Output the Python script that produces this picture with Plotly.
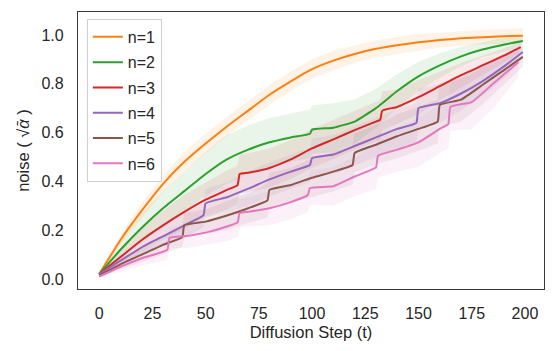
import numpy as np
import plotly.graph_objects as go

# ---- data ----
step_n1 = [0, 10, 20, 30, 40, 50, 60, 70, 80, 90, 100, 110, 120, 130, 140, 150, 160, 170, 180, 190, 199]
noise_n1 = [0.02, 0.16, 0.28, 0.39, 0.48, 0.555, 0.625, 0.69, 0.755, 0.81, 0.86, 0.895, 0.922, 0.943, 0.958,
            0.97, 0.979, 0.986, 0.991, 0.995, 0.997]
spread_n1 = [0.005, 0.02, 0.03, 0.035, 0.04, 0.04, 0.04, 0.04, 0.04, 0.04, 0.04, 0.04, 0.035, 0.035, 0.035,
             0.035, 0.03, 0.03, 0.03, 0.03, 0.03]

step_n2 = [0, 10, 20, 30, 40, 50, 60, 70, 80, 90, 99, 100, 110, 120, 130, 140, 150, 160, 170, 180, 190, 199]
noise_n2 = [0.02, 0.12, 0.21, 0.29, 0.36, 0.43, 0.49, 0.53, 0.56, 0.58, 0.595, 0.612, 0.62, 0.645, 0.70, 0.77,
            0.83, 0.875, 0.912, 0.94, 0.96, 0.975]
spread_n2 = [0.005, 0.04, 0.06, 0.07, 0.08, 0.09, 0.1, 0.1, 0.1, 0.1, 0.1, 0.1, 0.1, 0.09, 0.08, 0.07, 0.06,
             0.05, 0.04, 0.03, 0.03, 0.02]

step_n3 = [0, 10, 20, 30, 40, 50, 60, 65, 66, 70, 80, 90, 100, 110, 120, 130, 132, 133, 140, 150, 160, 170,
           180, 190, 198]
noise_n3 = [0.02, 0.09, 0.16, 0.22, 0.275, 0.325, 0.365, 0.385, 0.43, 0.435, 0.455, 0.49, 0.535, 0.572, 0.61,
            0.645, 0.652, 0.69, 0.705, 0.745, 0.79, 0.835, 0.875, 0.915, 0.95]
spread_n3 = [0.005, 0.03, 0.05, 0.06, 0.07, 0.07, 0.08, 0.08, 0.08, 0.08, 0.08, 0.08, 0.08, 0.08, 0.08, 0.08,
             0.08, 0.08, 0.07, 0.07, 0.06, 0.05, 0.04, 0.03, 0.02]

step_n4 = [0, 10, 20, 30, 40, 49, 50, 60, 70, 80, 90, 99, 100, 110, 120, 130, 140, 149, 150, 160, 170, 180,
           190, 199]
noise_n4 = [0.02, 0.075, 0.13, 0.175, 0.22, 0.262, 0.31, 0.335, 0.37, 0.408, 0.44, 0.467, 0.496, 0.51, 0.545,
            0.58, 0.615, 0.64, 0.70, 0.72, 0.76, 0.81, 0.87, 0.93]
spread_n4 = [0.005, 0.02, 0.03, 0.04, 0.05, 0.05, 0.06, 0.06, 0.07, 0.07, 0.07, 0.07, 0.08, 0.08, 0.08, 0.08,
             0.08, 0.08, 0.08, 0.08, 0.07, 0.06, 0.05, 0.03]

step_n5 = [0, 10, 20, 30, 39, 40, 50, 60, 70, 79, 80, 90, 100, 110, 119, 120, 130, 140, 150, 159, 160, 170,
           180, 190, 199]
noise_n5 = [0.015, 0.06, 0.1, 0.14, 0.172, 0.22, 0.235, 0.26, 0.29, 0.322, 0.365, 0.385, 0.415, 0.44, 0.467,
            0.516, 0.55, 0.585, 0.615, 0.645, 0.713, 0.735, 0.795, 0.855, 0.91]
spread_n5 = [0.005, 0.02, 0.03, 0.04, 0.04, 0.05, 0.05, 0.06, 0.06, 0.07, 0.07, 0.07, 0.08, 0.08, 0.08, 0.08,
             0.08, 0.09, 0.09, 0.09, 0.09, 0.09, 0.08, 0.06, 0.04]

step_n6 = [0, 10, 20, 32, 33, 40, 50, 60, 65, 66, 70, 80, 90, 98, 99, 110, 120, 130, 131, 140, 150, 160, 164,
           165, 175, 185, 197]
noise_n6 = [0.01, 0.05, 0.085, 0.119, 0.168, 0.175, 0.19, 0.215, 0.232, 0.27, 0.275, 0.29, 0.315, 0.344, 0.373,
            0.38, 0.42, 0.457, 0.505, 0.53, 0.56, 0.615, 0.635, 0.705, 0.725, 0.8, 0.889]
spread_n6 = [0.005, 0.02, 0.03, 0.04, 0.04, 0.05, 0.05, 0.06, 0.06, 0.06, 0.06, 0.07, 0.07, 0.07, 0.07, 0.08,
             0.08, 0.09, 0.09, 0.09, 0.1, 0.1, 0.1, 0.1, 0.11, 0.1, 0.06]

labels = ["n=1", "n=2", "n=3", "n=4", "n=5", "n=6"]
x_ticks = [0, 25, 50, 75, 100, 125, 150, 175, 200]
y_ticks = [0.0, 0.2, 0.4, 0.6, 0.8, 1.0]

series = [
    (step_n1, noise_n1, spread_n1),
    (step_n2, noise_n2, spread_n2),
    (step_n3, noise_n3, spread_n3),
    (step_n4, noise_n4, spread_n4),
    (step_n5, noise_n5, spread_n5),
    (step_n6, noise_n6, spread_n6),
]
colors = ["255,127,14", "44,160,44", "214,39,40", "148,103,189", "140,86,75", "227,119,194"]

FONT = "Liberation Sans, Arial, sans-serif"

fig = go.Figure()

# shaded spread bands first, lines on top
for (xs, ys, sd), c in zip(series, colors):
    xs = np.array(xs, dtype=float)
    ys = np.array(ys)
    sd = np.array(sd)
    fig.add_trace(go.Scatter(
        x=np.concatenate([xs, xs[::-1]]),
        y=np.concatenate([ys + sd, (ys - sd)[::-1]]),
        fill="toself",
        fillcolor=f"rgba({c},0.10)",
        line=dict(width=0),
        mode="lines",
        hoverinfo="skip",
        showlegend=False,
    ))

for (xs, ys, sd), c, name in zip(series, colors, labels):
    fig.add_trace(go.Scatter(
        x=xs, y=ys, mode="lines", name=name, legendgroup=name,
        line=dict(color=f"rgb({c})", width=2, shape="spline", smoothing=0.4),
    ))

axis_common = dict(
    showgrid=False, zeroline=False, automargin=False,
    showline=True, mirror=True, linecolor="#3a3a3a", linewidth=1.3,
    ticks="", ticklabelstandoff=10,
    tickfont=dict(family=FONT, size=16, color="#262626"),
    title_font=dict(family=FONT, size=16.5, color="#262626"),
)

# page body has an 8px margin, so the figure is sized to fill the rest of the window
fig.update_layout(
    width=548, height=343,
    margin=dict(l=70, r=12, t=4, b=62),
    paper_bgcolor="white", plot_bgcolor="white",
    xaxis=dict(range=[-9.95, 208.95], tickvals=x_ticks, title=dict(text="Diffusion Step (t)", standoff=5),
               **axis_common),
    yaxis=dict(range=[-0.041, 1.094], tickvals=y_ticks, tickformat=".1f",
               title=dict(text="noise ( √<i>ᾱ</i> )", standoff=7), **axis_common),
    legend=dict(
        x=0.019, y=0.975, xanchor="left", yanchor="top",
        bgcolor="white", bordercolor="#d0d0d0", borderwidth=1,
        font=dict(family=FONT, size=16, color="#262626"),
        tracegroupgap=1.5,
    ),
)

fig.write_html("out.html")
